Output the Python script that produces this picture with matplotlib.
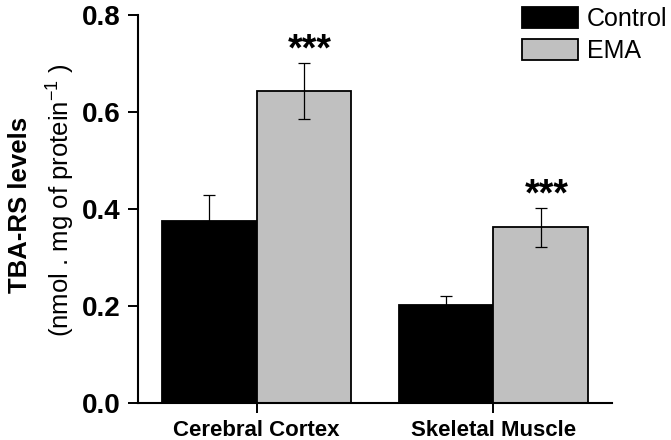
import matplotlib
matplotlib.use("Agg")
import matplotlib.pyplot as plt
import numpy as np

categories = ["Cerebral Cortex", "Skeletal Muscle"]
control = [0.375, 0.202]
control_err = [0.054, 0.019]
ema = [0.643, 0.362]
ema_err = [0.058, 0.040]
yticks = [0.0, 0.2, 0.4, 0.6, 0.8]

plt.rcParams['font.family'] = ['Liberation Sans', 'DejaVu Sans']
plt.rcParams['mathtext.fontset'] = 'custom'
plt.rcParams['mathtext.rm'] = 'Liberation Sans'

fig = plt.figure(figsize=(6.71, 4.40), dpi=100)
ax = fig.add_axes([0.2057, 0.084, 0.912 - 0.2057, 0.966 - 0.084])

x = np.arange(len(categories))
w = 0.4
ax.bar(x - w / 2, control, w, color='black', edgecolor='black', linewidth=1.3, label='Control', zorder=2)
ax.bar(x + w / 2, ema, w, color='#c0c0c0', edgecolor='black', linewidth=1.3, label='EMA', zorder=2)
ax.errorbar(x - w / 2, control, yerr=control_err, fmt='none', ecolor='black', elinewidth=0.9, capsize=4, capthick=0.9, zorder=1)
ax.errorbar(x + w / 2, ema, yerr=ema_err, fmt='none', ecolor='black', elinewidth=0.9, capsize=4, capthick=0.9, zorder=3)

for xi, v, e in zip(x + w / 2, ema, ema_err):
    ax.text(xi + 0.025, v + e + 0.005, '***', ha='center', va='baseline', fontsize=27, fontweight='bold')

ax.set_xlim(-0.5, 1.5)
ax.set_ylim(0, 0.8)
ax.set_yticks(yticks)
ax.set_yticklabels([f"{t:.1f}" for t in yticks], fontsize=20, fontweight='bold')
ax.set_xticks(x)
ax.set_xticklabels(categories, fontsize=16, fontweight='bold')
ax.tick_params(axis='both', direction='out', length=7.5, width=1.4, color='black')
ax.tick_params(axis='y', pad=5)
ax.tick_params(axis='x', pad=5)
for s in ['top', 'right']:
    ax.spines[s].set_visible(False)
for s in ['left', 'bottom']:
    ax.spines[s].set_linewidth(1.5)

fig.text(20 / 671, 1 - 205 / 440, 'TBA-RS levels', rotation=90, ha='center', va='center', fontsize=18.5, fontweight='bold')
fig.text(60 / 671, 1 - 200 / 440, '(nmol . mg of protein$^{\\mathregular{-1}}$ )', rotation=90, ha='center', va='center', fontsize=18.5)

leg = ax.legend(loc='upper left', bbox_to_anchor=(522 / 671, 1 - 7 / 440), bbox_transform=fig.transFigure,
                frameon=False, fontsize=18, handlelength=2.24, handleheight=0.9, handletextpad=0.36,
                labelspacing=0.32, borderpad=0, borderaxespad=0)

fig.savefig('out.png', dpi=100)
